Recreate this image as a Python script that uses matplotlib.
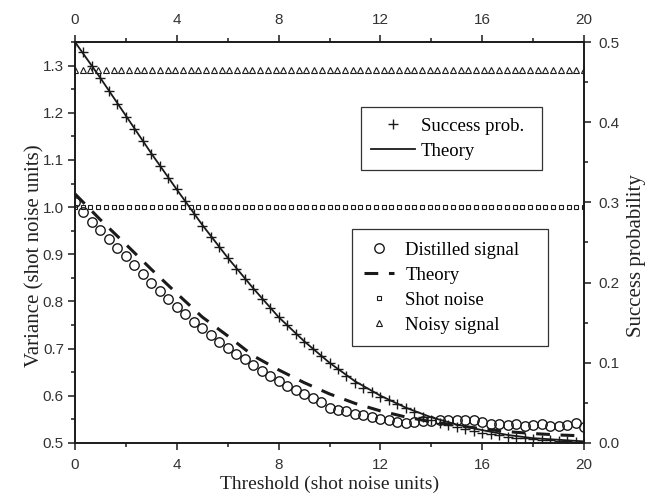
import numpy as np
import matplotlib
matplotlib.use('Agg')
import matplotlib.pyplot as plt

# thresholds (shot noise units)
thr = np.linspace(0, 20, 61)          # measured points, step 1/3
thr_ref = np.linspace(0, 20, 67)      # shot noise / noisy signal reference points
thr_theory = np.arange(0, 21)         # theory curves

success_prob = [0.500, 0.488, 0.470, 0.455, 0.439, 0.423, 0.407, 0.391, 0.376, 0.360,
                0.345, 0.330, 0.317, 0.302, 0.286, 0.271, 0.257, 0.244, 0.231, 0.217,
                0.204, 0.192, 0.180, 0.168, 0.157, 0.147, 0.136, 0.126, 0.117, 0.109,
                0.100, 0.092, 0.084, 0.075, 0.069, 0.064, 0.057, 0.053, 0.048, 0.044,
                0.039, 0.033, 0.029, 0.025, 0.023, 0.020, 0.018, 0.015, 0.013, 0.011,
                0.0095, 0.008, 0.0068, 0.0058, 0.005, 0.004, 0.0033, 0.0026, 0.002, 0.0015,
                0.001]
success_theory = [0.500, 0.455, 0.408, 0.361, 0.316, 0.272, 0.231, 0.193, 0.157, 0.127,
                  0.100, 0.077, 0.059, 0.044, 0.032, 0.023, 0.016, 0.010, 0.006, 0.004, 0.002]

distilled = [1.010, 0.989, 0.969, 0.951, 0.933, 0.914, 0.896, 0.877, 0.858, 0.840,
             0.823, 0.806, 0.789, 0.773, 0.757, 0.743, 0.728, 0.715, 0.702, 0.689,
             0.677, 0.665, 0.653, 0.641, 0.631, 0.621, 0.612, 0.603, 0.595, 0.587,
             0.574, 0.570, 0.567, 0.562, 0.559, 0.555, 0.551, 0.548, 0.545, 0.543,
             0.545, 0.547, 0.547, 0.549, 0.548, 0.549, 0.548, 0.548, 0.545, 0.541,
             0.540, 0.538, 0.541, 0.536, 0.538, 0.541, 0.536, 0.535, 0.538, 0.543,
             0.533]
distilled_theory = [1.028, 0.973, 0.921, 0.868, 0.817, 0.767, 0.727, 0.685, 0.655, 0.628,
                    0.604, 0.584, 0.568, 0.555, 0.545, 0.537, 0.530, 0.524, 0.520, 0.517, 0.515]
shot_noise = [1.0] * len(thr_ref)
noisy_signal = [1.29] * len(thr_ref)

ink = '#1a1a1a'
serif = ['Liberation Serif', 'DejaVu Serif']
sans = ['Liberation Sans', 'DejaVu Sans']
plt.rcParams['font.family'] = sans

fig = plt.figure(figsize=(6.5, 4.96), dpi=100)
ax = fig.add_axes([0.1154, 0.1069, 0.7831, 0.8084])
ax2 = ax.twinx()

ax.plot(thr, distilled, 'o', ms=6.8, mfc='none', mec=ink, mew=1.0, label='Distilled signal')
ax.plot(thr_theory, distilled_theory, color=ink, lw=2.2, dashes=(4.5, 3.5), label='Theory')
ax.plot(thr_ref, shot_noise, 's', ms=3.3, mfc='none', mec=ink, mew=0.8, label='Shot noise')
ax.plot(thr_ref, noisy_signal, '^', ms=4, mfc='none', mec=ink, mew=0.8, label='Noisy signal')

ax2.plot(thr, success_prob, '+', ms=7, mec=ink, mew=1.0, label='Success prob.')
ax2.plot(thr_theory, success_theory, '-', color=ink, lw=1.3, label='Theory')

ax.set_xlim(0, 20)
ax.set_ylim(0.5, 1.35)
ax2.set_ylim(0, 0.5)
ax.set_xticks(np.arange(0, 21, 4))
ax.set_xticks(np.arange(0, 21, 2), minor=True)
ax.set_yticks(np.arange(0.5, 1.31, 0.1))
ax.set_yticks(np.arange(0.5, 1.36, 0.05), minor=True)
ax2.set_yticks(np.arange(0, 0.51, 0.1))
ax2.set_yticks(np.arange(0, 0.51, 0.05), minor=True)
ax.set_yticklabels(['%.1f' % v for v in np.arange(0.5, 1.31, 0.1)])
ax2.set_yticklabels(['%.1f' % v for v in np.arange(0, 0.51, 0.1)])

for a in (ax, ax2):
    for s in a.spines.values():
        s.set_linewidth(1.2)
        s.set_color(ink)
ax.tick_params(which='both', direction='out', top=True, labeltop=True, width=1.1,
               color=ink, labelcolor='#333333', labelsize=11)
ax.tick_params(which='major', length=5)
ax.tick_params(which='minor', length=3)
ax.tick_params(axis='x', pad=6)
ax.tick_params(axis='y', pad=3)
ax2.tick_params(which='both', direction='out', width=1.1, color=ink,
                labelcolor='#333333', labelsize=11, pad=5)
ax2.tick_params(which='major', length=5)
ax2.tick_params(which='minor', length=3)

ax.set_xlabel('Threshold (shot noise units)', family=serif, fontsize=14, color='#222222', labelpad=2.5)
ax.set_ylabel('Variance (shot noise units)', family=serif, fontsize=15, color='#222222')
ax2.set_ylabel('Success probability', family=serif, fontsize=15, color='#222222')
ax.yaxis.set_label_coords(-0.060, 0.4675)
ax2.yaxis.set_label_coords(1.084, 0.4675)

leg_font = {'family': serif, 'size': 13.5}
leg1 = ax2.legend(loc='upper left', bbox_to_anchor=(0.562, 0, 0.356, 0.8375), mode='expand',
                  borderaxespad=0, prop=leg_font, fancybox=False, framealpha=1,
                  edgecolor='#333333', handlelength=2.3, handletextpad=0.35,
                  labelspacing=0.42, borderpad=0.55)
leg1.get_frame().set_linewidth(0.9)
leg2 = ax.legend(loc='upper left', bbox_to_anchor=(0.544, 0, 0.385, 0.5325), mode='expand',
                 borderaxespad=0, prop=leg_font, fancybox=False, framealpha=1,
                 edgecolor='#333333', handlelength=1.6, handletextpad=0.6,
                 labelspacing=0.42, borderpad=0.65)
leg2.get_frame().set_linewidth(0.9)

fig.savefig('out.png', dpi=100)
